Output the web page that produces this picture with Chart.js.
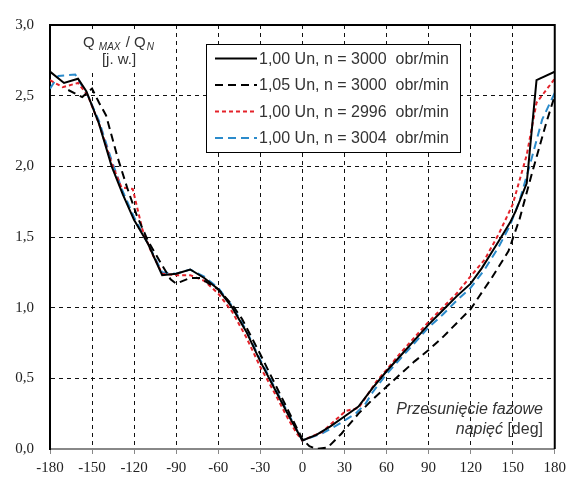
<!DOCTYPE html>
<html><head><meta charset="utf-8">
<script src="https://cdn.jsdelivr.net/npm/chart.js@4"></script>
<style>html,body{margin:0;padding:0;background:#fff}canvas{display:block}</style>
</head><body>
<canvas id="c" width="571" height="479" style="width:571px;height:479px"></canvas>
<script>
const seriesLabels = [
  '1,00 Un, n = 3000  obr/min',
  '1,05 Un, n = 3000  obr/min',
  '1,00 Un, n = 2996  obr/min',
  '1,00 Un, n = 3004  obr/min'
];
const xTicks = [-180,-150,-120,-90,-60,-30,0,30,60,90,120,150,180];
const yTicks = [0,0.5,1,1.5,2,2.5,3];

const s1X = [-180,-170,-160,-154,-145,-136,-128,-120,-110,-100,-90,-80,-70,-60,-50,-40,-30,-20,-10,0,10,20,30,40,50,60,70,80,90,100,110,120,128,140,148,152,160,167,180];
const s1Y = [2.67,2.59,2.62,2.53,2.30,2.00,1.80,1.62,1.45,1.23,1.24,1.27,1.21,1.13,1.00,0.83,0.62,0.43,0.24,0.06,0.10,0.16,0.23,0.30,0.43,0.55,0.66,0.77,0.88,0.98,1.08,1.17,1.28,1.47,1.60,1.68,1.88,2.61,2.67];

const s2X = [-167,-157,-150,-145,-140,-132,-125,-118,-110,-100,-94,-90,-80,-73,-60,-50,-43,-30,-20,-10,0,5,10,18,28,40,50,60,70,80,90,100,110,120,135,147,155,164,174,180];
const s2Y = [2.54,2.49,2.55,2.45,2.36,2.07,1.85,1.65,1.47,1.30,1.20,1.17,1.21,1.21,1.13,1.02,0.92,0.67,0.47,0.27,0.07,0.02,0.00,0.01,0.11,0.25,0.35,0.44,0.53,0.62,0.70,0.79,0.89,0.99,1.21,1.40,1.63,1.96,2.31,2.50];

const s3X = [-180,-171,-160,-153,-145,-136,-129,-121,-114,-108,-100,-90,-80,-70,-60,-50,-40,-30,-20,-10,-4,0,14,31,40,53,60,70,80,90,100,110,119,130,140,150,160,167,180];
const s3Y = [2.61,2.56,2.59,2.50,2.30,2.02,1.85,1.84,1.55,1.40,1.24,1.23,1.23,1.19,1.10,0.97,0.79,0.58,0.40,0.21,0.11,0.06,0.12,0.27,0.29,0.48,0.56,0.68,0.79,0.90,1.00,1.10,1.21,1.34,1.52,1.73,2.08,2.45,2.62];

const s4X = [-180,-174,-162,-153,-145,-136,-128,-120,-110,-100,-90,-80,-70,-60,-50,-40,-30,-20,-10,0,14,25,38,45,50,60,70,80,90,100,110,120,130,140,148,155,162,171,180];
const s4Y = [2.55,2.64,2.65,2.50,2.32,2.04,1.82,1.64,1.45,1.25,1.24,1.27,1.22,1.14,1.01,0.84,0.63,0.44,0.25,0.06,0.11,0.17,0.25,0.32,0.40,0.53,0.64,0.75,0.86,0.95,1.05,1.14,1.27,1.43,1.58,1.76,2.00,2.33,2.52];

const toPts = (xs, ys) => xs.map((x, i) => ({x: x, y: ys[i]}));

const bgPlugin = {
  id: 'bg',
  beforeDraw(chart) {
    const ctx = chart.ctx;
    ctx.save(); ctx.fillStyle = '#fff'; ctx.fillRect(0, 0, chart.width, chart.height); ctx.restore();
  }
};

const decorPlugin = {
  id: 'decor',
  afterDraw(chart) {
    const ctx = chart.ctx;
    const a = chart.chartArea;
    ctx.save();
    // top and right frame
    ctx.strokeStyle = '#000'; ctx.lineWidth = 2; ctx.setLineDash([]);
    ctx.beginPath();
    ctx.moveTo(a.left - 1, a.top); ctx.lineTo(a.right, a.top); ctx.lineTo(a.right, a.bottom);
    ctx.stroke();

    // legend box
    const bx = 206, by = 44, bw = 254, bh = 108;
    ctx.fillStyle = '#fff'; ctx.fillRect(bx, by, bw, bh);
    ctx.strokeStyle = '#000'; ctx.lineWidth = 1;
    ctx.strokeRect(bx + 0.5, by + 0.5, bw, bh);
    chart.data.datasets.forEach((ds, i) => {
      const y = by + 14.5 + i * 26.5;
      ctx.strokeStyle = ds.borderColor; ctx.lineWidth = 2;
      ctx.setLineDash(ds.borderDash || []);
      ctx.beginPath(); ctx.moveTo(bx + 9, y); ctx.lineTo(bx + 51, y); ctx.stroke();
      ctx.setLineDash([]);
      ctx.fillStyle = '#333'; ctx.font = '16px "Liberation Sans", Arial, sans-serif';
      ctx.textBaseline = 'middle'; ctx.textAlign = 'left';
      ctx.fillText(ds.label, bx + 53, y + 1);
    });

    // y title
    ctx.fillStyle = '#fff'; ctx.fillRect(80, 31, 80, 40);
    ctx.fillStyle = '#333'; ctx.textBaseline = 'alphabetic'; ctx.textAlign = 'left';
    const big = '15px "Liberation Sans", Arial, sans-serif';
    const small = 'italic 10px "Liberation Sans", Arial, sans-serif';
    let x = 83;
    ctx.font = big; ctx.fillText('Q', x, 47); x += ctx.measureText('Q ').width;
    ctx.font = small; ctx.fillText('MAX', x, 50); x += ctx.measureText('MAX').width + 1;
    ctx.font = big; ctx.fillText(' / Q', x, 47); x += ctx.measureText(' / Q').width + 1;
    ctx.font = small; ctx.fillText('N', x, 50);
    ctx.font = big; ctx.textAlign = 'center'; ctx.fillText('[j. w.]', 119, 64);

    // x title inside plot
    ctx.textAlign = 'left';
    const it = 'italic 16px "Liberation Sans", Arial, sans-serif';
    const reg = '16px "Liberation Sans", Arial, sans-serif';
    const rightX = 543;
    ctx.font = it;
    const t1 = 'Przesunięcie fazowe';
    ctx.fillText(t1, rightX - ctx.measureText(t1).width, 414);
    ctx.font = reg; const wDeg = ctx.measureText(' [deg]').width;
    ctx.font = it; const wNap = ctx.measureText('napięć').width;
    ctx.fillText('napięć', rightX - wDeg - wNap, 434);
    ctx.font = reg; ctx.fillText(' [deg]', rightX - wDeg, 434);
    ctx.restore();
  }
};

const tickFont = {family: '"Liberation Serif", "Times New Roman", serif', size: 15};

new Chart(document.getElementById('c'), {
  type: 'line',
  data: {
    datasets: [
      {label: seriesLabels[0], data: toPts(s1X, s1Y), borderColor: '#000000', borderWidth: 2, borderDash: []},
      {label: seriesLabels[1], data: toPts(s2X, s2Y), borderColor: '#000000', borderWidth: 2, borderDash: [8, 5]},
      {label: seriesLabels[2], data: toPts(s3X, s3Y), borderColor: '#e4222a', borderWidth: 2, borderDash: [4, 3]},
      {label: seriesLabels[3], data: toPts(s4X, s4Y), borderColor: '#2b8bcb', borderWidth: 2, borderDash: [8, 5]}
    ]
  },
  options: {
    responsive: false,
    animation: false,
    layout: {padding: {top: 22, right: 16, left: 0, bottom: 0}},
    elements: {point: {radius: 0}, line: {tension: 0, fill: false}},
    plugins: {legend: {display: false}, tooltip: {enabled: false}},
    scales: {
      x: {
        type: 'linear', min: -180, max: 180,
        afterBuildTicks: s => { s.ticks = xTicks.map(v => ({value: v})); },
        afterFit: s => { s.height = 30; },
        ticks: {font: tickFont, color: '#222', padding: 5, maxRotation: 0, autoSkip: false,
                callback: v => String(v)},
        grid: {color: '#111', lineWidth: 1, drawTicks: true, tickLength: 5, tickColor: '#888', tickBorderDash: []},
        border: {display: true, color: '#888', width: 2, dash: [4, 4]}
      },
      y: {
        min: 0, max: 3,
        afterBuildTicks: s => { s.ticks = yTicks.map(v => ({value: v})); },
        afterFit: s => { s.width = 50; },
        ticks: {font: tickFont, color: '#222', padding: 16,
                callback: v => v.toFixed(1).replace('.', ',')},
        grid: {color: '#111', lineWidth: 1, drawTicks: false},
        border: {display: true, color: '#000', width: 2, dash: [4, 4]}
      }
    }
  },
  plugins: [bgPlugin, decorPlugin]
});
</script>
</body></html>
